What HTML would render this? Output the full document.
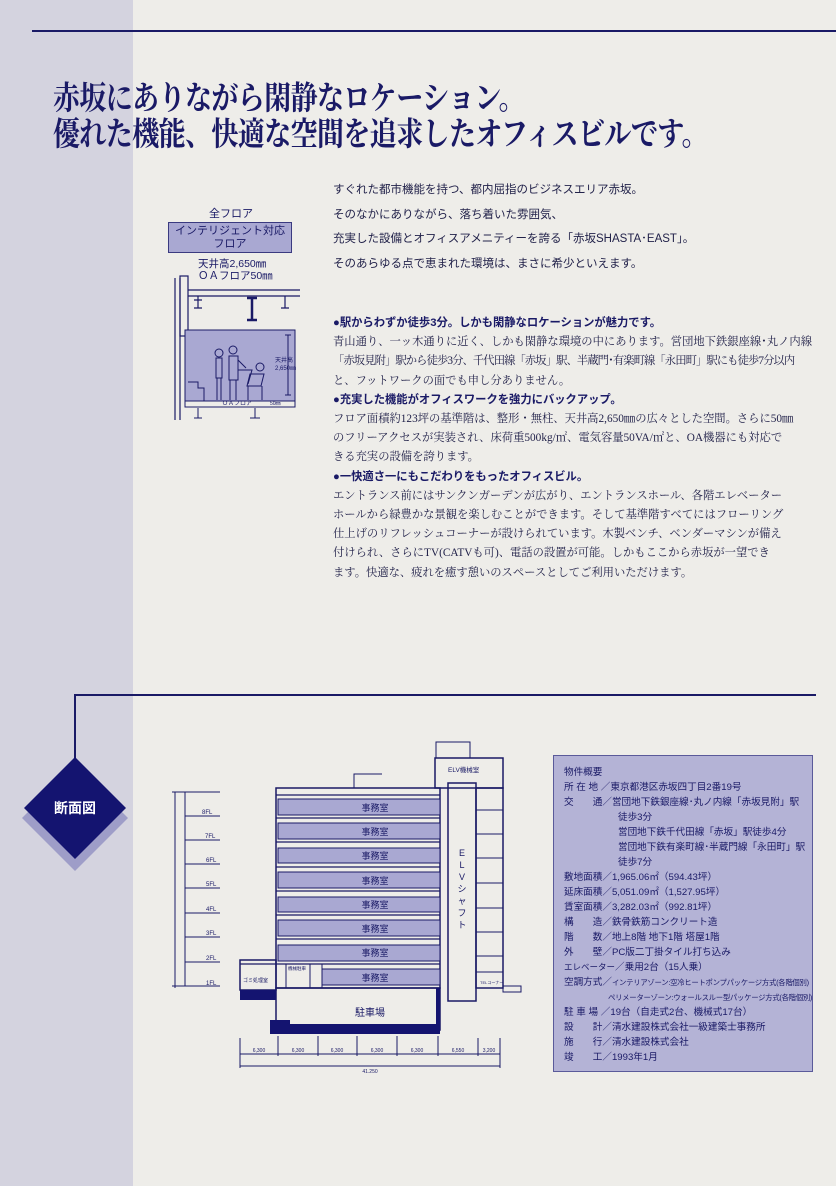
<!DOCTYPE html>
<html><head><meta charset="utf-8"><style>
*{margin:0;padding:0}
body{width:836px;height:1186px;background:#eeede9;position:relative;overflow:hidden;font-family:"Liberation Serif","Noto Serif CJK JP",serif;color:#1c1c5e}
.band{position:absolute;left:0;top:0;width:133px;height:1186px;background:#d4d3df}
.abs{position:absolute;white-space:nowrap}
.h{font-family:"Liberation Serif","Noto Serif CJK JP",serif;font-weight:bold;font-size:27px;color:#1a1a66;transform-origin:0 0;transform:scaleY(1.2);letter-spacing:-0.6px}
.p{font-size:11.3px;line-height:19.2px;color:#22224a;white-space:nowrap}
.p b{font-family:"Liberation Sans","Noto Sans CJK JP",sans-serif;font-weight:bold;color:#1a1a66}
.intro{font-family:"Liberation Sans","Noto Sans CJK JP",sans-serif;font-size:11.5px;line-height:24.7px;color:#22224a}
.info{position:absolute;left:553px;top:755px;width:260px;height:317px;background:#b4b3d6;border:1px solid #5a5a9a;box-sizing:border-box;font-family:"Liberation Sans","Noto Sans CJK JP",sans-serif;font-size:9.6px;line-height:15px;color:#1a1a66;padding:9px 0 0 10px;white-space:nowrap;overflow:hidden}
.s{font-size:7.4px;letter-spacing:-0.3px}
</style></head><body>
<div class="band"></div>
<div class="abs" style="left:32px;top:30px;width:804px;height:2px;background:#1a1a66"></div>
<div class="abs h" style="left:53px;top:72px">赤坂にありながら閑静なロケーション。</div>
<div class="abs h" style="left:53px;top:108px">優れた機能、快適な空間を追求したオフィスビルです。</div>

<div class="abs intro" style="left:333px;top:178px">すぐれた都市機能を持つ、都内屈指のビジネスエリア赤坂。<br>そのなかにありながら、落ち着いた雰囲気、<br>充実した設備とオフィスアメニティーを誇る「赤坂SHASTA･EAST」。<br>そのあらゆる点で恵まれた環境は、まさに希少といえます。</div>

<div class="abs p" style="left:333px;top:314px"><b>●駅からわずか徒歩3分。しかも閑静なロケーションが魅力です。</b><br>青山通り、一ッ木通りに近く、しかも閑静な環境の中にあります。営団地下鉄銀座線･丸ノ内線<br><span style="letter-spacing:-0.9px">「赤坂見附」駅から徒歩3分、千代田線「赤坂」駅、半蔵門･有楽町線「永田町」駅にも徒歩7分以内</span><br>と、フットワークの面でも申し分ありません。<br><b>●充実した機能がオフィスワークを強力にバックアップ。</b><br>フロア面積約123坪の基準階は、整形・無柱、天井高2,650㎜の広々とした空間。さらに50㎜<br>のフリーアクセスが実装され、床荷重500kg/㎡、電気容量50VA/㎡と、OA機器にも対応で<br>きる充実の設備を誇ります。<br><b>●一快適さ一にもこだわりをもったオフィスビル。</b><br>エントランス前にはサンクンガーデンが広がり、エントランスホール、各階エレベーター<br>ホールから緑豊かな景観を楽しむことができます。そして基準階すべてにはフローリング<br>仕上げのリフレッシュコーナーが設けられています。木製ベンチ、ベンダーマシンが備え<br>付けられ、さらにTV(CATVも可)、電話の設置が可能。しかもここから赤坂が一望でき<br>ます。快適な、疲れを癒す憩いのスペースとしてご利用いただけます。</div>

<!-- small floor diagram -->
<div class="abs" style="left:168px;top:205px;width:126px;text-align:center;font-family:'Liberation Sans','Noto Sans CJK JP',sans-serif;font-size:11px;color:#1a1a66">全フロア</div>
<div class="abs" style="left:168px;top:222px;width:124px;height:31px;background:#a9a8d2;border:1px solid #3a3a80;box-sizing:border-box;text-align:center;font-family:'Liberation Sans','Noto Sans CJK JP',sans-serif;font-size:11px;line-height:13px;color:#1a1a66;padding-top:2px">インテリジェント対応<br>フロア</div>
<div class="abs" style="left:198px;top:258px;font-family:'Liberation Sans','Noto Sans CJK JP',sans-serif;font-size:10.5px;line-height:12px;color:#1a1a66">天井高2,650㎜<br>ＯＡフロア50㎜</div>
<svg class="abs" style="left:150px;top:270px" width="160" height="150">
<g stroke="#1a1a66" fill="none" stroke-width="1.2">
<line x1="25" y1="8" x2="25" y2="150"/><line x1="30" y1="8" x2="30" y2="150"/>
<rect x="30" y="6" width="8" height="60" />
<line x1="38" y1="20" x2="150" y2="20"/><line x1="38" y1="26" x2="150" y2="26"/>
<path d="M48 26v12M44 38h8M44 30h8"/><path d="M102 28v22M97 28h10M97 50h10" stroke-width="2.5"/>
<path d="M135 26v12M131 38h8"/>
</g>
<rect x="35" y="127" width="110" height="10" fill="none" stroke="#1a1a66"/>
<rect x="35" y="60" width="110" height="71" fill="#a9a8d2" stroke="#1a1a66"/>
<g stroke="#1a1a66" fill="none" stroke-width="1">
<path d="M38 112h10v6h6v13"/><path d="M138 65v60M135 65h6M135 125h6"/>
<circle cx="69" cy="83" r="4"/><path d="M66 88h6v20h-6zM67 108v22M71 108v22"/>
<circle cx="83" cy="80" r="4"/><path d="M79 86h9v24h-9zM80 110v20M86 110v20M88 90l8 8"/>
<circle cx="110" cy="97" r="4"/><path d="M100 104h14l-3 12h-14zM112 116v14M98 116v14"/>
<path d="M88 100h14l-4 14"/>
<path d="M48 148v-10M44 148h8M105 148v-10M100 148h10"/>
</g>
<text x="72" y="135" font-size="6" fill="#1a1a66" font-family="Liberation Sans,Noto Sans CJK JP,sans-serif">ＯＡフロア</text>
<text x="120" y="135" font-size="5" fill="#1a1a66" font-family="Liberation Sans,sans-serif">50㎜</text>
<text x="125" y="92" font-size="6" fill="#1a1a66" font-family="Liberation Sans,Noto Sans CJK JP,sans-serif">天井高</text>
<text x="125" y="100" font-size="6" fill="#1a1a66" font-family="Liberation Sans,sans-serif">2,650㎜</text>
</svg>

<div class="abs" style="left:74px;top:694px;width:742px;height:2px;background:#1a1a66"></div>
<div class="abs" style="left:74px;top:694px;width:1.5px;height:64px;background:#1a1a66"></div>
<svg class="abs" style="left:20px;top:755px" width="115" height="120">
<polygon points="55,10 108,63 55,116 2,63" fill="#9e9dc8"/>
<polygon points="55,2 106,53 55,104 4,53" fill="#141470"/>
<text x="55" y="58" text-anchor="middle" fill="#fff" font-size="14" font-weight="bold" font-family="Liberation Sans,Noto Sans CJK JP,sans-serif">断面図</text>
</svg>

<svg class="abs" style="left:170px;top:738px" width="360" height="335" font-family="Liberation Sans,Noto Sans CJK JP,sans-serif">
<g stroke="#1a1a66" fill="none" stroke-width="1">
<line x1="5" y1="54" x2="5" y2="250"/>
<line x1="2" y1="54" x2="50" y2="54"/>
<line x1="15" y1="78" x2="50" y2="78"/><line x1="15" y1="102" x2="50" y2="102"/><line x1="15" y1="126" x2="50" y2="126"/><line x1="15" y1="150" x2="50" y2="150"/><line x1="15" y1="175" x2="50" y2="175"/><line x1="15" y1="199" x2="50" y2="199"/><line x1="15" y1="224" x2="50" y2="224"/><line x1="2" y1="248" x2="50" y2="248"/>
<line x1="15" y1="54" x2="15" y2="248"/>
</g>
<g font-size="6" fill="#1a1a66"><text x="32" y="76">8FL</text><text x="35" y="100">7FL</text><text x="36" y="124">6FL</text><text x="36" y="148">5FL</text><text x="36" y="173">4FL</text><text x="36" y="197">3FL</text><text x="36" y="222">2FL</text><text x="36" y="247">1FL</text></g>
<rect x="106" y="50" width="164" height="200" fill="none" stroke="#1a1a66" stroke-width="1.5"/>
<g fill="#a9a8d2" stroke="#1a1a66">
<rect x="108" y="61" width="162" height="16"/><rect x="108" y="85" width="162" height="16"/><rect x="108" y="110" width="162" height="15"/><rect x="108" y="134" width="162" height="16"/><rect x="108" y="159" width="162" height="15"/><rect x="108" y="182" width="162" height="16"/><rect x="108" y="207" width="162" height="16"/><rect x="152" y="231" width="118" height="16"/>
</g>
<g stroke="#1a1a66" stroke-width="1.2"><line x1="106" y1="57" x2="270" y2="57"/><line x1="106" y1="80" x2="270" y2="80"/><line x1="106" y1="104" x2="270" y2="104"/><line x1="106" y1="129" x2="270" y2="129"/><line x1="106" y1="153" x2="270" y2="153"/><line x1="106" y1="177" x2="270" y2="177"/><line x1="106" y1="201" x2="270" y2="201"/><line x1="70" y1="226" x2="270" y2="226"/></g>
<g font-size="9" fill="#1a1a66" text-anchor="middle"><text x="205" y="73">事務室</text><text x="205" y="97">事務室</text><text x="205" y="121">事務室</text><text x="205" y="146">事務室</text><text x="205" y="170">事務室</text><text x="205" y="194">事務室</text><text x="205" y="218">事務室</text><text x="205" y="243">事務室</text><text x="200" y="278" font-size="10">駐車場</text></g>
<path d="M184 50v-14h28" stroke="#1a1a66" fill="none"/>
<rect x="265" y="20" width="68" height="30" fill="none" stroke="#1a1a66" stroke-width="1.5"/>
<rect x="266" y="4" width="34" height="16" fill="none" stroke="#1a1a66"/>
<rect x="278" y="45" width="28" height="218" fill="none" stroke="#1a1a66" stroke-width="1.5"/>
<text x="278" y="34" font-size="6.5" fill="#1a1a66">ELV機械室</text>
<g font-size="9" fill="#1a1a66" text-anchor="middle"><text x="292" y="118">E</text><text x="292" y="130">L</text><text x="292" y="142">V</text><text x="292" y="154">シ</text><text x="292" y="166">ャ</text><text x="292" y="178">フ</text><text x="292" y="190">ト</text></g>
<rect x="306" y="50" width="27" height="200" fill="none" stroke="#1a1a66" stroke-width="1.5"/>
<g stroke="#1a1a66"><line x1="306" y1="72" x2="333" y2="72"/><line x1="306" y1="96" x2="333" y2="96"/><line x1="306" y1="120" x2="333" y2="120"/><line x1="306" y1="145" x2="333" y2="145"/><line x1="306" y1="170" x2="333" y2="170"/><line x1="306" y1="194" x2="333" y2="194"/><line x1="306" y1="218" x2="333" y2="218"/><line x1="306" y1="234" x2="333" y2="234"/></g>
<text x="310" y="246" font-size="4" fill="#1a1a66">TELコーナー</text>
<rect x="333" y="248" width="18" height="6" fill="none" stroke="#1a1a66"/>
<rect x="70" y="222" width="36" height="30" fill="none" stroke="#1a1a66" stroke-width="1.5"/>
<text x="73" y="244" font-size="5" fill="#1a1a66">ゴミ処理室</text>
<text x="118" y="232" font-size="4.5" fill="#1a1a66">機械駐車</text>
<g stroke="#1a1a66" fill="none"><rect x="106" y="226" width="10" height="24"/><rect x="116" y="226" width="24" height="24"/><rect x="140" y="226" width="12" height="24"/></g>
<rect x="106" y="250" width="164" height="42" fill="none" stroke="#1a1a66" stroke-width="1.5"/>
<path d="M70 252h36v10h-36z" fill="#141470"/>
<path d="M100 282h20v4h150v10H100z" fill="#141470"/>
<path d="M266 250h4v46h-4z" fill="#141470"/>
<g stroke="#1a1a66" fill="none"><line x1="70" y1="316" x2="330" y2="316"/><line x1="70" y1="328" x2="330" y2="328"/><line x1="70" y1="300" x2="70" y2="330"/><line x1="108" y1="298" x2="108" y2="318"/><line x1="148" y1="298" x2="148" y2="318"/><line x1="187" y1="298" x2="187" y2="318"/><line x1="227" y1="298" x2="227" y2="318"/><line x1="268" y1="298" x2="268" y2="318"/><line x1="308" y1="300" x2="308" y2="318"/><line x1="330" y1="300" x2="330" y2="330"/></g>
<g font-size="5" fill="#1a1a66" text-anchor="middle"><text x="89" y="314">6,300</text><text x="128" y="314">6,300</text><text x="167" y="314">6,300</text><text x="207" y="314">6,300</text><text x="247" y="314">6,300</text><text x="288" y="314">6,550</text><text x="319" y="314">3,200</text><text x="200" y="335">41,250</text></g>
</svg>

<div class="info">物件概要<br>所 在 地 ／東京都港区赤坂四丁目2番19号<br>交　　通／営団地下鉄銀座線･丸ノ内線「赤坂見附」駅<br><span style="padding-left:54px">徒歩3分</span><br><span style="padding-left:54px">営団地下鉄千代田線「赤坂」駅徒歩4分</span><br><span style="padding-left:54px">営団地下鉄有楽町線･半蔵門線「永田町」駅</span><br><span style="padding-left:54px">徒歩7分</span><br>敷地面積／1,965.06㎡（594.43坪）<br>延床面積／5,051.09㎡（1,527.95坪）<br>賃室面積／3,282.03㎡（992.81坪）<br>構　　造／鉄骨鉄筋コンクリート造<br>階　　数／地上8階 地下1階 塔屋1階<br>外　　壁／PC版二丁掛タイル打ち込み<br><span style="font-size:8.5px">エレベーター</span>／乗用2台（15人乗）<br>空調方式／<span class="s">インテリアゾーン:空冷ヒートポンプパッケージ方式(各階個別)</span><br><span class="s" style="padding-left:44px">ペリメーターゾーン:ウォールスルー型パッケージ方式(各階個別)</span><br>駐 車 場 ／19台（自走式2台、機械式17台）<br>設　　計／清水建設株式会社一級建築士事務所<br>施　　行／清水建設株式会社<br>竣　　工／1993年1月</div>
</body></html>
